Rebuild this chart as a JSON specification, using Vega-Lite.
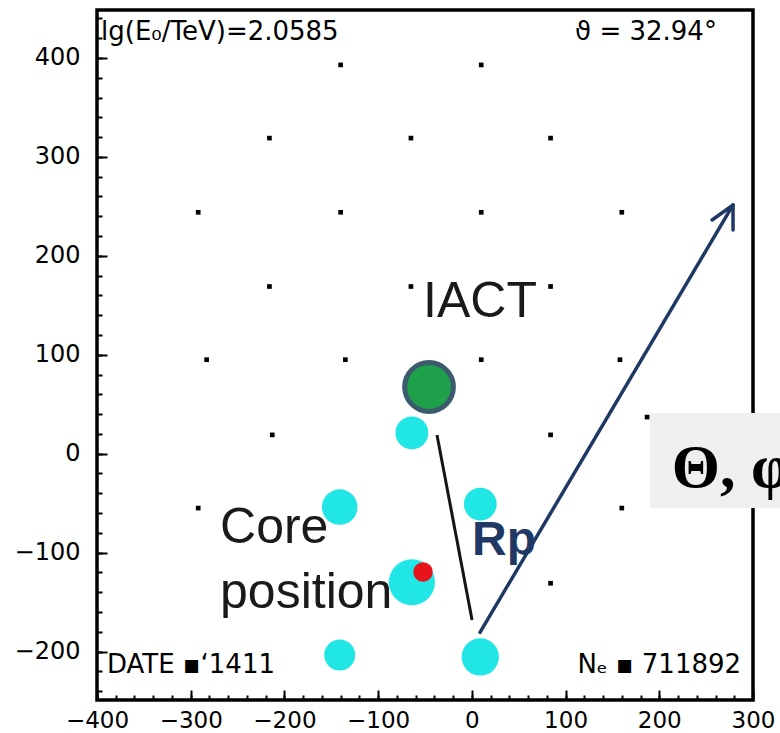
{
  "$schema": "https://vega.github.io/schema/vega-lite/v6.json",
  "width": 656,
  "height": 690,
  "autosize": {"type": "none"},
  "padding": {"left": 97, "top": 10, "right": 27, "bottom": 33},
  "background": "white",
  "config": {"view": {"stroke": "black", "strokeWidth": 3.5}},
  "datasets": {
    "box": [{"x1": 190.1, "x2": 328.8, "y1": 41.1, "y2": -54.9}],
    "grid": [
      {"x": -140, "y": 393}, {"x": 10, "y": 393},
      {"x": -216, "y": 319}, {"x": -65, "y": 319}, {"x": 84, "y": 319},
      {"x": -292, "y": 244}, {"x": -140, "y": 244}, {"x": 10, "y": 244}, {"x": 160, "y": 244},
      {"x": -216, "y": 169}, {"x": -65, "y": 169}, {"x": 84, "y": 169},
      {"x": -283, "y": 95}, {"x": -135, "y": 95}, {"x": 10, "y": 95}, {"x": 158, "y": 95},
      {"x": -213, "y": 19}, {"x": 84, "y": 19}, {"x": 187, "y": 37},
      {"x": -292, "y": -55}, {"x": 160, "y": -55},
      {"x": 84, "y": -131}
    ],
    "hits": [
      {"x": -64, "y": 21, "amp": 1.0},
      {"x": -141, "y": -54, "amp": 1.17},
      {"x": 9, "y": -51, "amp": 1.0},
      {"x": -64, "y": -130, "amp": 1.98},
      {"x": -141, "y": -203.5, "amp": 0.89},
      {"x": 9, "y": -205.5, "amp": 1.29}
    ],
    "iact": [{"x": -45.7, "y": 67.4}],
    "core": [{"x": -52.1, "y": -119.6}],
    "rp": [{"x": -37.2, "y": 18.9, "x2": 0.2, "y2": -168.1}],
    "arrow": [
      {"x": 8.7, "y": -180.6, "x2": 278.7, "y2": 251.4},
      {"x": 256.3, "y": 236.2, "x2": 278.7, "y2": 251.4},
      {"x": 278.7, "y": 226.1, "x2": 278.7, "y2": 251.4}
    ],
    "info": [
      {"x": -395.7, "y": 418.2, "t": "lg(E₀/TeV)=2.0585"},
      {"x": 110.1, "y": 418.2, "t": "ϑ = 32.94°"},
      {"x": -389.3, "y": -221.7, "t": "DATE ▪‘1411"},
      {"x": 112.6, "y": -221.7, "t": "Nₑ ▪ 711892"}
    ],
    "labels": [
      {"x": -52.1, "y": 138.1, "t": "IACT"},
      {"x": -268.7, "y": -90.3, "t": "Core"},
      {"x": -268.7, "y": -156, "t": "position"}
    ],
    "rplabel": [{"x": 0.2, "y": -102.5, "t": "Rp"}],
    "angles": [{"x": 213.3, "y": -33.7, "t": "Θ, φ"}]
  },
  "layer": [
    {
      "data": {"name": "box"},
      "mark": {"type": "rect", "fill": "#efefef"},
      "encoding": {
        "x": {"field": "x1", "type": "quantitative",
          "scale": {"domain": [-400, 300], "nice": false, "zero": false},
          "axis": {"orient": "bottom", "title": null, "domain": false, "grid": false, "labels": false,
            "values": [-400,-380,-360,-340,-320,-300,-280,-260,-240,-220,-200,-180,-160,-140,-120,-100,-80,-60,-40,-20,0,20,40,60,80,100,120,140,160,180,200,220,240,260,280],
            "tickSize": -5, "tickWidth": 2, "tickColor": "black"}},
        "x2": {"field": "x2"},
        "y": {"field": "y1", "type": "quantitative",
          "scale": {"domain": [-249, 448.5], "nice": false, "zero": false},
          "axis": {"orient": "left", "title": null, "domain": false, "grid": false, "labels": false,
            "values": [-240,-220,-200,-180,-160,-140,-120,-100,-80,-60,-40,-20,0,20,40,60,80,100,120,140,160,180,200,220,240,260,280,300,320,340,360,380,400,420,440],
            "tickSize": -5, "tickWidth": 2, "tickColor": "black"}},
        "y2": {"field": "y2"}
      }
    },
    {
      "data": {"name": "grid"},
      "mark": {"type": "point", "shape": "square", "filled": true, "color": "black", "size": 22, "opacity": 1},
      "encoding": {
        "x": {"field": "x", "type": "quantitative",
          "axis": {"orient": "bottom", "title": null, "domain": false, "grid": false,
            "values": [-400, -300, -200, -100, 0, 100, 200, 300],
            "tickSize": -10, "tickWidth": 2, "tickColor": "black",
            "labelFont": "DejaVu Sans", "labelFontSize": 23, "labelColor": "black",
            "labelPadding": 19, "labelFlush": false, "labelOverlap": false}},
        "y": {"field": "y", "type": "quantitative",
          "axis": {"orient": "left", "title": null, "domain": false, "grid": false,
            "values": [-200, -100, 0, 100, 200, 300, 400],
            "tickSize": -10, "tickWidth": 2, "tickColor": "black",
            "labelFont": "DejaVu Sans", "labelFontSize": 24, "labelColor": "black",
            "labelPadding": 27, "labelOverlap": false}}
      }
    },
    {
      "data": {"name": "hits"},
      "mark": {"type": "circle", "color": "#20e6e6", "opacity": 1},
      "encoding": {
        "x": {"field": "x", "type": "quantitative", "axis": null},
        "y": {"field": "y", "type": "quantitative", "axis": null},
        "size": {"field": "amp", "type": "quantitative", "scale": {"domain": [0, 1], "range": [0, 1075], "zero": true}, "legend": null}
      }
    },
    {
      "data": {"name": "iact"},
      "mark": {"type": "circle", "fill": "#1fa04b", "stroke": "#3c5c6e", "strokeWidth": 5, "size": 2376, "opacity": 1, "fillOpacity": 1},
      "encoding": {
        "x": {"field": "x", "type": "quantitative", "axis": null},
        "y": {"field": "y", "type": "quantitative", "axis": null}
      }
    },
    {
      "data": {"name": "core"},
      "mark": {"type": "circle", "color": "#e8141c", "size": 380, "opacity": 1},
      "encoding": {
        "x": {"field": "x", "type": "quantitative", "axis": null},
        "y": {"field": "y", "type": "quantitative", "axis": null}
      }
    },
    {
      "data": {"name": "rp"},
      "mark": {"type": "rule", "color": "#141414", "strokeWidth": 3},
      "encoding": {
        "x": {"field": "x", "type": "quantitative", "axis": null},
        "y": {"field": "y", "type": "quantitative", "axis": null},
        "x2": {"field": "x2"},
        "y2": {"field": "y2"}
      }
    },
    {
      "data": {"name": "arrow"},
      "mark": {"type": "rule", "color": "#1f3864", "strokeWidth": 3.5, "strokeCap": "round"},
      "encoding": {
        "x": {"field": "x", "type": "quantitative", "axis": null},
        "y": {"field": "y", "type": "quantitative", "axis": null},
        "x2": {"field": "x2"},
        "y2": {"field": "y2"}
      }
    },
    {
      "data": {"name": "info"},
      "mark": {"type": "text", "align": "left", "baseline": "alphabetic", "font": "DejaVu Sans", "fontSize": 26, "color": "black"},
      "encoding": {
        "x": {"field": "x", "type": "quantitative", "axis": null},
        "y": {"field": "y", "type": "quantitative", "axis": null},
        "text": {"field": "t"}
      }
    },
    {
      "data": {"name": "labels"},
      "mark": {"type": "text", "align": "left", "baseline": "alphabetic", "font": "Liberation Sans", "fontSize": 50, "color": "#1a1a1a"},
      "encoding": {
        "x": {"field": "x", "type": "quantitative", "axis": null},
        "y": {"field": "y", "type": "quantitative", "axis": null},
        "text": {"field": "t"}
      }
    },
    {
      "data": {"name": "rplabel"},
      "mark": {"type": "text", "align": "left", "baseline": "alphabetic", "font": "Liberation Sans", "fontSize": 48, "fontWeight": "bold", "color": "#1f3864"},
      "encoding": {
        "x": {"field": "x", "type": "quantitative", "axis": null},
        "y": {"field": "y", "type": "quantitative", "axis": null},
        "text": {"field": "t"}
      }
    },
    {
      "data": {"name": "angles"},
      "mark": {"type": "text", "align": "left", "baseline": "alphabetic", "font": "Liberation Serif", "fontSize": 62, "fontWeight": "bold", "color": "black"},
      "encoding": {
        "x": {"field": "x", "type": "quantitative", "axis": null},
        "y": {"field": "y", "type": "quantitative", "axis": null},
        "text": {"field": "t"}
      }
    }
  ],
  "resolve": {"axis": {"x": "independent", "y": "independent"}}
}
